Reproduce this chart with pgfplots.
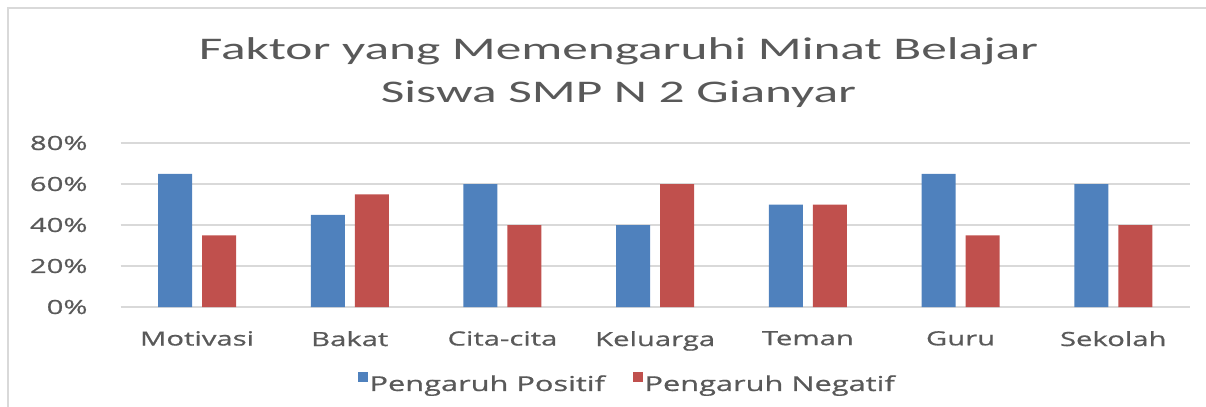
\documentclass[border=0pt]{standalone}
\usepackage{fontspec}
\usepackage{pgfplots}
\pgfplotsset{compat=1.18}
\newfontfamily\titlefont[FakeStretch=1.63]{Carlito}
\newfontfamily\tickfont[FakeStretch=1.5,FakeBold=0.8]{Open Sans}
\definecolor{pos}{HTML}{4F81BD}
\definecolor{neg}{HTML}{C0504D}
\definecolor{txt}{HTML}{595959}
\definecolor{gridc}{HTML}{D9D9D9}
\begin{document}
\begin{tikzpicture}
\useasboundingbox (-120.7bp,-100bp) rectangle (1085.3bp,307bp);
\draw[gridc, line width=1.5bp] (-112.7bp,-100bp) -- (-112.7bp,299bp) -- (1085.3bp,299bp);
\begin{axis}[
  at={(0,0)}, anchor=south west, scale only axis,
  width=1069bp, height=164bp,
  xmin=-0.5, xmax=6.5, ymin=0, ymax=80,
  xtick={0,...,6},
  xticklabels={Motivasi,Bakat,Cita-cita,Keluarga,Teman,Guru,Sekolah},
  ytick={0,20,40,60,80},
  yticklabels={0\%,20\%,40\%,60\%,80\%},
  ymajorgrids, grid style={gridc, line width=1.3bp},
  axis line style={draw=none},
  major tick length=0pt,
  tick label style={font=\tickfont\fontsize{19.5bp}{23bp}\selectfont, text=txt},
  xticklabel style={anchor=north, inner sep=0pt, yshift=-24bp},
  yticklabel style={anchor=east, inner sep=0pt, xshift=-33bp},
  legend columns=2,
  legend style={at={(axis description cs:0.4736,-0.463)}, anchor=center, draw=none, fill=none,
    font=\tickfont\fontsize{20.5bp}{24bp}\selectfont, text=txt,
    nodes={inner sep=1.5bp},
    /tikz/every even column/.append style={column sep=26bp}},
  legend image code/.code={\fill[#1, draw=none] (0bp,1.5bp) rectangle (10.5bp,12bp);},
]
\addplot[ybar, bar width=34bp, bar shift=-22bp, fill=pos, draw=none]
  coordinates {(0,65) (1,45) (2,60) (3,40) (4,50) (5,65) (6,60)};
\addlegendentry{Pengaruh Positif}
\addplot[ybar, bar width=34bp, bar shift=22bp, fill=neg, draw=none]
  coordinates {(0,35) (1,55) (2,40) (3,60) (4,50) (5,35) (6,40)};
\addlegendentry{Pengaruh Negatif}
\end{axis}
\node[anchor=base, font=\titlefont\fontsize{31.5bp}{38bp}\selectfont, text=txt] at (497.8bp,247bp) {Faktor yang Memengaruhi Minat Belajar};
\node[anchor=base, font=\titlefont\fontsize{31.5bp}{38bp}\selectfont, text=txt] at (497.8bp,204bp) {Siswa SMP N 2 Gianyar};
\end{tikzpicture}
\end{document}
